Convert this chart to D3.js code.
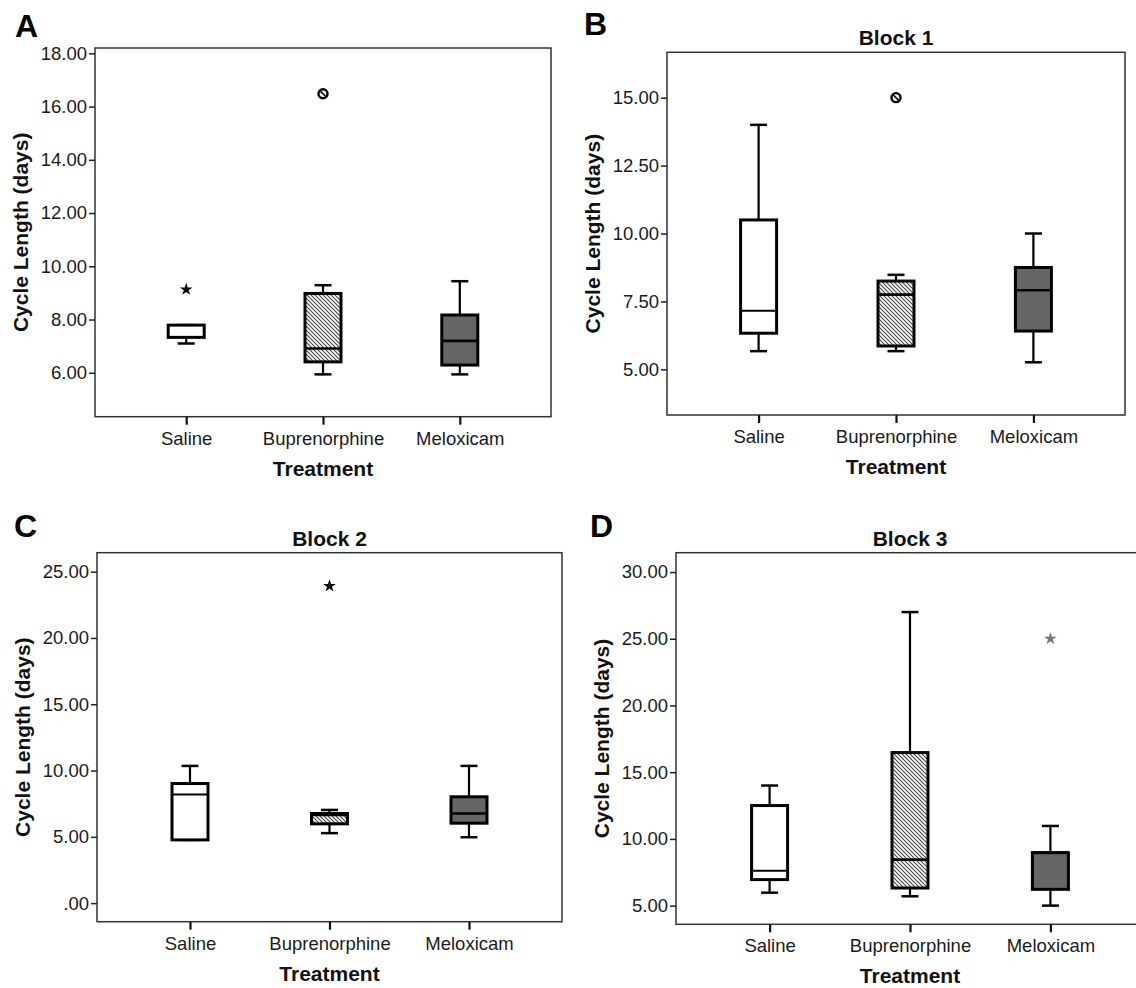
<!DOCTYPE html>
<html>
<head>
<meta charset="utf-8">
<script src="https://cdn.jsdelivr.net/npm/d3@7"></script>
<style>
  body { margin: 0; background: #fff; }
  svg { display: block; font-family: "Liberation Sans", Arial, sans-serif; }
</style>
</head>
<body>
<svg id="chart" width="1136" height="988"></svg>
<script>
// groups on the x axis
var treatments = ['Saline', 'Buprenorphine', 'Meloxicam'];

// one entry per panel (A, B, C, D)
var panelLetters = ['A', 'B', 'C', 'D'];
var panelTitles = ['', 'Block 1', 'Block 2', 'Block 3'];
var yTickValues = [
    [6, 8, 10, 12, 14, 16, 18],
    [5, 7.5, 10, 12.5, 15],
    [0, 5, 10, 15, 20, 25],
    [5, 10, 15, 20, 25, 30]
];
var yDomains = [[4.35, 18.2], [3.32, 16.67], [-1.4, 26.43], [3.6, 31.45]];

// box plot stats, rows = panels, cols = treatments
var whiskerLow = [[7.10, 5.94, 5.94], [5.67, 5.67, 5.26], [4.77, 5.28, 4.97], [5.97, 5.70, 5.00]];
var q1 = [[7.33, 6.41, 6.29], [6.33, 5.86, 6.41], [4.77, 5.98, 6.03], [6.95, 6.32, 6.22]];
var medians = [[7.79, 6.91, 7.20], [7.16, 7.75, 7.91], [8.19, 6.65, 6.76], [7.62, 8.45, 8.97]];
var q3 = [[7.79, 8.98, 8.17], [10.50, 8.25, 8.75], [9.02, 6.76, 8.02], [12.50, 16.47, 8.97]];
var whiskerHigh = [[7.79, 9.29, 9.44], [14.00, 8.48, 10.00], [10.35, 7.03, 10.35], [14.00, 27.00, 10.97]];

// outliers (circle) and extremes (star)
var outlierPanel = [0, 0, 1, 2, 3];
var outlierGroup = [0, 1, 1, 1, 2];
var outlierValue = [9.13, 16.48, 15.00, 23.92, 25.00];
var outlierKind = ['extreme', 'outlier', 'outlier', 'extreme', 'extreme'];

// layout of each panel's frame
var frames = [
    {l: 95, r: 551, t: 48, b: 416.7, lx: 15, ly: 37},
    {l: 667, r: 1125, t: 52.3, b: 415, lx: 584, ly: 35},
    {l: 97, r: 562, t: 552.7, b: 921.7, lx: 14, ly: 537},
    {l: 676, r: 1144, t: 552.7, b: 924.3, lx: 590, ly: 537}
];

var fills = ['#ffffff', 'url(#hatch)', '#666666'];
var boxW = 36, capW = 17;

var svg = d3.select('#chart');

// diagonal hatching for Buprenorphine
var pat = svg.append('defs').append('pattern')
    .attr('id', 'hatch')
    .attr('patternUnits', 'userSpaceOnUse')
    .attr('width', 4)
    .attr('height', 4);
pat.append('rect').attr('width', 4).attr('height', 4).attr('fill', '#fff');
pat.append('path')
    .attr('d', 'M-1,-1 L5,5 M-1,3 L1,5 M3,-1 L5,1')
    .attr('stroke', '#444')
    .attr('stroke-width', 1.1);

function fmt(v) {
    var s = d3.format('.2f')(v);
    return s.replace(/^0\./, '.');
}

frames.forEach(function (f, p) {
    var g = svg.append('g');

    var x = d3.scalePoint().domain(treatments).range([f.l, f.r]).padding(2 / 3);
    var y = d3.scaleLinear().domain(yDomains[p]).range([f.b, f.t]);

    // frame
    g.append('rect')
        .attr('x', f.l).attr('y', f.t)
        .attr('width', f.r - f.l).attr('height', f.b - f.t)
        .attr('fill', 'none')
        .attr('stroke', '#333')
        .attr('stroke-width', 1.5);

    // y axis
    var ya = g.append('g')
        .attr('transform', 'translate(' + f.l + ',0)')
        .call(d3.axisLeft(y).tickValues(yTickValues[p]).tickFormat(fmt).tickSize(6).tickSizeOuter(0).tickPadding(2));
    ya.select('.domain').remove();
    ya.selectAll('.tick line').attr('stroke', '#222').attr('stroke-width', 1.5);
    ya.selectAll('.tick text').attr('font-size', 18.5).attr('fill', '#1a1a1a').style('font-family', 'Liberation Sans, Arial, sans-serif');

    // x axis
    var xa = g.append('g')
        .attr('transform', 'translate(0,' + f.b + ')')
        .call(d3.axisBottom(x).tickSize(8).tickSizeOuter(0).tickPadding(7));
    xa.select('.domain').remove();
    xa.selectAll('.tick line').attr('stroke', '#111').attr('stroke-width', 2.2);
    xa.selectAll('.tick text').attr('font-size', 18.5).attr('fill', '#1a1a1a').style('font-family', 'Liberation Sans, Arial, sans-serif');

    // axis titles
    g.append('text')
        .attr('x', (f.l + f.r) / 2)
        .attr('y', f.b + 59)
        .attr('text-anchor', 'middle')
        .attr('font-size', 21).attr('font-weight', 'bold').attr('fill', '#111')
        .text('Treatment');

    g.append('text')
        .attr('transform', 'translate(' + (f.l - 75) + ',' + ((f.t + f.b) / 2) + ') rotate(-90)')
        .attr('text-anchor', 'middle')
        .attr('dominant-baseline', 'central')
        .attr('font-size', 21).attr('font-weight', 'bold').attr('fill', '#111')
        .text('Cycle Length (days)');

    if (panelTitles[p]) {
        g.append('text')
            .attr('x', (f.l + f.r) / 2)
            .attr('y', f.t - 7)
            .attr('text-anchor', 'middle')
            .attr('font-size', 21).attr('font-weight', 'bold').attr('fill', '#111')
            .text(panelTitles[p]);
    }

    g.append('text')
        .attr('x', f.lx).attr('y', f.ly)
        .attr('font-size', 32).attr('font-weight', 'bold').attr('fill', '#000')
        .text(panelLetters[p]);

    // boxes
    var stats = treatments.map(function (t, i) {
        return {t: t, i: i, lo: whiskerLow[p][i], q1: q1[p][i], med: medians[p][i], q3: q3[p][i], hi: whiskerHigh[p][i]};
    });

    var bx = g.selectAll('.bx').data(stats).enter().append('g').attr('class', 'bx');

    bx.append('line')
        .attr('x1', function (d) { return x(d.t); })
        .attr('x2', function (d) { return x(d.t); })
        .attr('y1', function (d) { return y(d.hi); })
        .attr('y2', function (d) { return y(d.lo); })
        .attr('stroke', '#000').attr('stroke-width', 2.2);

    bx.selectAll('.cap').data(function (d) { return [{t: d.t, v: d.lo}, {t: d.t, v: d.hi}]; })
        .enter().append('line')
        .attr('x1', function (d) { return x(d.t) - capW / 2; })
        .attr('x2', function (d) { return x(d.t) + capW / 2; })
        .attr('y1', function (d) { return y(d.v); })
        .attr('y2', function (d) { return y(d.v); })
        .attr('stroke', '#000').attr('stroke-width', 2.5);

    bx.append('rect')
        .attr('x', function (d) { return x(d.t) - boxW / 2; })
        .attr('y', function (d) { return y(d.q3); })
        .attr('width', boxW)
        .attr('height', function (d) { return y(d.q1) - y(d.q3); })
        .attr('fill', function (d) { return fills[d.i]; })
        .attr('stroke', '#000').attr('stroke-width', 3);

    bx.append('line')
        .attr('x1', function (d) { return x(d.t) - boxW / 2; })
        .attr('x2', function (d) { return x(d.t) + boxW / 2; })
        .attr('y1', function (d) { return y(d.med); })
        .attr('y2', function (d) { return y(d.med); })
        .attr('stroke', '#000')
        .attr('stroke-width', function (d) { return d.i === 0 ? 2 : 2.6; });

    // outliers / extremes
    var pts = outlierValue.map(function (v, k) {
        return {p: outlierPanel[k], t: treatments[outlierGroup[k]], v: v, kind: outlierKind[k]};
    }).filter(function (d) { return d.p === p; });

    pts.forEach(function (d) {
        var cx = x(d.t), cy = y(d.v);
        if (d.kind === 'outlier') {
            g.append('circle')
                .attr('cx', cx).attr('cy', cy).attr('r', 4.5)
                .attr('fill', '#fff').attr('stroke', '#000').attr('stroke-width', 2.4);
            g.append('line')
                .attr('x1', cx - 2.7).attr('y1', cy - 2.7)
                .attr('x2', cx + 2.7).attr('y2', cy + 2.7)
                .attr('stroke', '#000').attr('stroke-width', 1.6);
        } else {
            g.append('path')
                .attr('transform', 'translate(' + cx + ',' + cy + ')')
                .attr('d', d3.symbol().type(d3.symbolStar).size(50)())
                .attr('fill', p === 3 ? '#777' : '#000');
        }
    });
});
</script>
</body>
</html>
